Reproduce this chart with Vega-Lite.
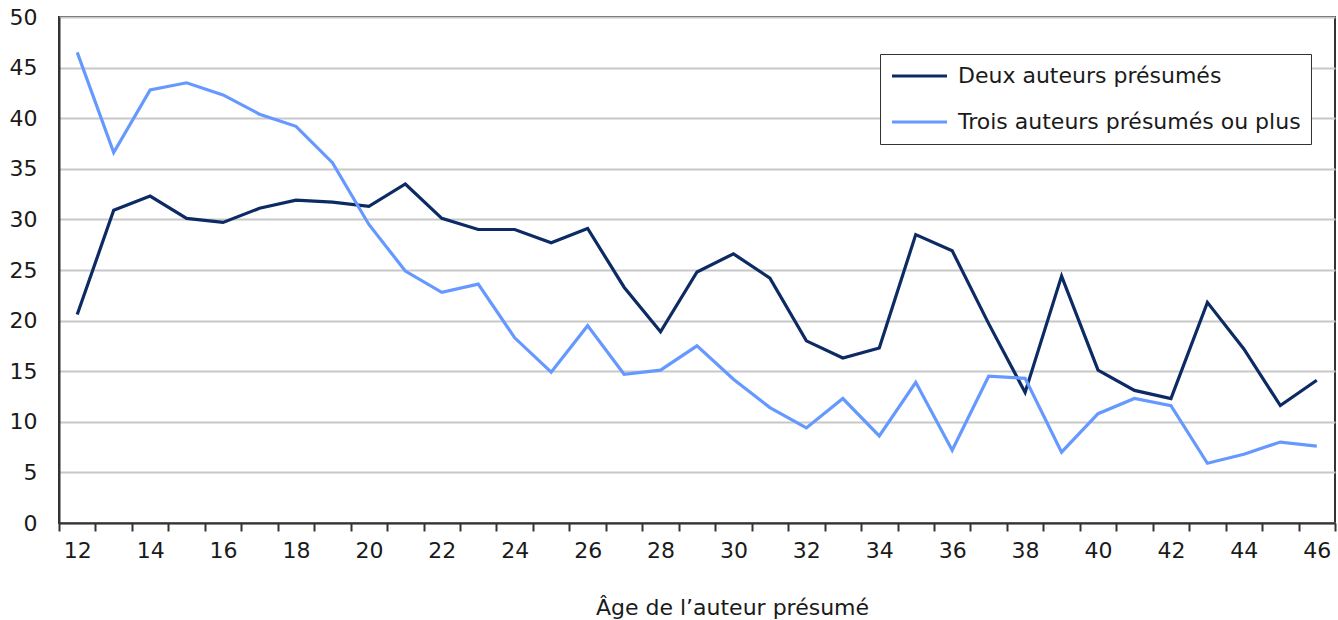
{
  "$schema": "https://vega.github.io/schema/vega-lite/v6.json",
  "width": 1276,
  "height": 506,
  "autosize": "none",
  "padding": {"left": 59, "top": 17, "right": 3, "bottom": 97},
  "background": "white",
  "config": {
    "view": {"stroke": "#333333", "strokeWidth": 2},
    "font": "DejaVu Sans"
  },
  "data": {
    "values": [
      {"age": 12, "serie": "Deux auteurs présumés", "value": 20.6},
      {"age": 13, "serie": "Deux auteurs présumés", "value": 30.9},
      {"age": 14, "serie": "Deux auteurs présumés", "value": 32.3},
      {"age": 15, "serie": "Deux auteurs présumés", "value": 30.1},
      {"age": 16, "serie": "Deux auteurs présumés", "value": 29.7},
      {"age": 17, "serie": "Deux auteurs présumés", "value": 31.1},
      {"age": 18, "serie": "Deux auteurs présumés", "value": 31.9},
      {"age": 19, "serie": "Deux auteurs présumés", "value": 31.7},
      {"age": 20, "serie": "Deux auteurs présumés", "value": 31.3},
      {"age": 21, "serie": "Deux auteurs présumés", "value": 33.5},
      {"age": 22, "serie": "Deux auteurs présumés", "value": 30.1},
      {"age": 23, "serie": "Deux auteurs présumés", "value": 29.0},
      {"age": 24, "serie": "Deux auteurs présumés", "value": 29.0},
      {"age": 25, "serie": "Deux auteurs présumés", "value": 27.7},
      {"age": 26, "serie": "Deux auteurs présumés", "value": 29.1},
      {"age": 27, "serie": "Deux auteurs présumés", "value": 23.3},
      {"age": 28, "serie": "Deux auteurs présumés", "value": 18.9},
      {"age": 29, "serie": "Deux auteurs présumés", "value": 24.8},
      {"age": 30, "serie": "Deux auteurs présumés", "value": 26.6},
      {"age": 31, "serie": "Deux auteurs présumés", "value": 24.2},
      {"age": 32, "serie": "Deux auteurs présumés", "value": 18.0},
      {"age": 33, "serie": "Deux auteurs présumés", "value": 16.3},
      {"age": 34, "serie": "Deux auteurs présumés", "value": 17.3},
      {"age": 35, "serie": "Deux auteurs présumés", "value": 28.5},
      {"age": 36, "serie": "Deux auteurs présumés", "value": 26.9},
      {"age": 37, "serie": "Deux auteurs présumés", "value": 19.7},
      {"age": 38, "serie": "Deux auteurs présumés", "value": 12.9},
      {"age": 39, "serie": "Deux auteurs présumés", "value": 24.4},
      {"age": 40, "serie": "Deux auteurs présumés", "value": 15.1},
      {"age": 41, "serie": "Deux auteurs présumés", "value": 13.1},
      {"age": 42, "serie": "Deux auteurs présumés", "value": 12.3},
      {"age": 43, "serie": "Deux auteurs présumés", "value": 21.8},
      {"age": 44, "serie": "Deux auteurs présumés", "value": 17.2},
      {"age": 45, "serie": "Deux auteurs présumés", "value": 11.6},
      {"age": 46, "serie": "Deux auteurs présumés", "value": 14.1},
      {"age": 12, "serie": "Trois auteurs présumés ou plus", "value": 46.5},
      {"age": 13, "serie": "Trois auteurs présumés ou plus", "value": 36.6},
      {"age": 14, "serie": "Trois auteurs présumés ou plus", "value": 42.8},
      {"age": 15, "serie": "Trois auteurs présumés ou plus", "value": 43.5},
      {"age": 16, "serie": "Trois auteurs présumés ou plus", "value": 42.3},
      {"age": 17, "serie": "Trois auteurs présumés ou plus", "value": 40.4},
      {"age": 18, "serie": "Trois auteurs présumés ou plus", "value": 39.2},
      {"age": 19, "serie": "Trois auteurs présumés ou plus", "value": 35.6},
      {"age": 20, "serie": "Trois auteurs présumés ou plus", "value": 29.5},
      {"age": 21, "serie": "Trois auteurs présumés ou plus", "value": 24.9},
      {"age": 22, "serie": "Trois auteurs présumés ou plus", "value": 22.8},
      {"age": 23, "serie": "Trois auteurs présumés ou plus", "value": 23.6},
      {"age": 24, "serie": "Trois auteurs présumés ou plus", "value": 18.3},
      {"age": 25, "serie": "Trois auteurs présumés ou plus", "value": 14.9},
      {"age": 26, "serie": "Trois auteurs présumés ou plus", "value": 19.5},
      {"age": 27, "serie": "Trois auteurs présumés ou plus", "value": 14.7},
      {"age": 28, "serie": "Trois auteurs présumés ou plus", "value": 15.1},
      {"age": 29, "serie": "Trois auteurs présumés ou plus", "value": 17.5},
      {"age": 30, "serie": "Trois auteurs présumés ou plus", "value": 14.2},
      {"age": 31, "serie": "Trois auteurs présumés ou plus", "value": 11.4},
      {"age": 32, "serie": "Trois auteurs présumés ou plus", "value": 9.4},
      {"age": 33, "serie": "Trois auteurs présumés ou plus", "value": 12.3},
      {"age": 34, "serie": "Trois auteurs présumés ou plus", "value": 8.6},
      {"age": 35, "serie": "Trois auteurs présumés ou plus", "value": 13.9},
      {"age": 36, "serie": "Trois auteurs présumés ou plus", "value": 7.2},
      {"age": 37, "serie": "Trois auteurs présumés ou plus", "value": 14.5},
      {"age": 38, "serie": "Trois auteurs présumés ou plus", "value": 14.3},
      {"age": 39, "serie": "Trois auteurs présumés ou plus", "value": 7.0},
      {"age": 40, "serie": "Trois auteurs présumés ou plus", "value": 10.8},
      {"age": 41, "serie": "Trois auteurs présumés ou plus", "value": 12.3},
      {"age": 42, "serie": "Trois auteurs présumés ou plus", "value": 11.6},
      {"age": 43, "serie": "Trois auteurs présumés ou plus", "value": 5.9},
      {"age": 44, "serie": "Trois auteurs présumés ou plus", "value": 6.8},
      {"age": 45, "serie": "Trois auteurs présumés ou plus", "value": 8.0},
      {"age": 46, "serie": "Trois auteurs présumés ou plus", "value": 7.6}
    ]
  },
  "mark": {"type": "line", "strokeWidth": 3.2, "strokeJoin": "miter"},
  "encoding": {
    "x": {
      "field": "age",
      "type": "ordinal",
      "scale": {"type": "band", "paddingInner": 0, "paddingOuter": 0},
      "axis": {
        "title": "Âge de l’auteur présumé",
        "titleFont": "DejaVu Sans",
        "titleFontSize": 22,
        "titleFontWeight": "normal",
        "titleColor": "#1a1a1a",
        "titleX": 673,
        "titleY": 84,
        "titleBaseline": "middle",
        "labelAngle": 0,
        "labelFont": "DejaVu Sans",
        "labelFontSize": 22,
        "labelColor": "#1a1a1a",
        "labelPadding": 9,
        "labelExpr": "datum.value % 2 == 0 ? datum.label : ''",
        "labelOverlap": false,
        "tickBand": "extent",
        "ticks": true,
        "tickSize": 8,
        "tickColor": "#333333",
        "tickWidth": 2,
        "domainColor": "#333333",
        "domainWidth": 2,
        "grid": false
      }
    },
    "y": {
      "field": "value",
      "type": "quantitative",
      "scale": {"domain": [0, 50], "nice": false},
      "axis": {
        "title": null,
        "values": [0, 5, 10, 15, 20, 25, 30, 35, 40, 45, 50],
        "labelFont": "DejaVu Sans",
        "labelFontSize": 22,
        "labelColor": "#1a1a1a",
        "labelPadding": 22,
        "ticks": false,
        "domainColor": "#333333",
        "domainWidth": 2,
        "grid": true,
        "gridColor": "#c8c8c8",
        "gridWidth": 2
      }
    },
    "color": {
      "field": "serie",
      "type": "nominal",
      "scale": {
        "domain": ["Deux auteurs présumés", "Trois auteurs présumés ou plus"],
        "range": ["#0c2a63", "#6699ff"]
      },
      "legend": {
        "title": null,
        "orient": "none",
        "legendX": 821,
        "legendY": 37,
        "padding": 10,
        "strokeColor": "#333333",
        "fillColor": "white",
        "cornerRadius": 0,
        "symbolType": "stroke",
        "symbolSize": 3025,
        "symbolStrokeWidth": 3.2,
        "clipHeight": 24,
        "rowPadding": 22,
        "labelOffset": 9,
        "labelFont": "DejaVu Sans",
        "labelFontSize": 22,
        "labelColor": "#1a1a1a",
        "labelLimit": 500
      }
    }
  }
}
